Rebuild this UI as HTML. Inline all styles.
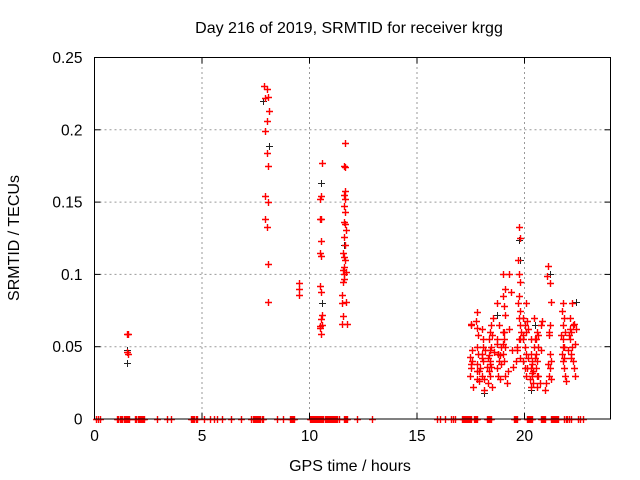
<!DOCTYPE html>
<html><head><meta charset="utf-8"><style>
body{margin:0;background:#fff}
svg{display:block;font-family:"Liberation Sans",sans-serif}
</style></head><body>
<svg id="chart" width="640" height="480" viewBox="0 0 640 480" xmlns="http://www.w3.org/2000/svg">
<text x="349" y="33" font-size="16" text-anchor="middle">Day 216 of 2019, SRMTID for receiver krgg</text>
<text x="350" y="471" font-size="16" text-anchor="middle">GPS time / hours</text>
<text x="0" y="0" font-size="16" text-anchor="middle" transform="translate(19,238) rotate(-90)">SRMTID / TECUs</text>
<g id="grid"></g>
<g id="marks"></g>
<rect x="94.5" y="57.5" width="516" height="361.5" fill="none" stroke="#000" stroke-width="1"/>
<g id="axes"></g>
</svg>
<script>
const xTicks=[0,5,10,15,20];
const yTicks=[0,0.05,0.1,0.15,0.2,0.25];
const yTickLabels=["0","0.05","0.1","0.15","0.2","0.25"];
const redTimes=[1.5,1.55,1.5,1.55,
7.9,8.0,8.05,8.1,8.0,7.95,8.0,8.05,7.95,8.05,7.95,8.0,8.05,8.05,7.95,
9.5,9.5,9.5,
10.6,10.55,10.5,10.55,10.5,10.55,10.5,10.55,10.5,10.55,10.6,10.55,10.6,10.5,10.55,10.5,
11.65,11.6,11.65,11.65,11.6,11.65,11.6,11.65,11.6,11.65,11.7,11.6,11.65,11.55,11.6,11.65,11.6,11.7,11.55,11.6,11.6,11.55,11.5,11.7,11.5,11.55,11.75,11.5,
17.5,17.5,17.45,17.5,17.55,17.45,17.55,17.6,17.5,
17.8,17.8,17.8,17.75,17.8,17.85,17.8,17.85,17.8,17.9,17.9,
18.0,18.05,18.0,18.05,18.0,18.05,17.95,18.0,18.1,18.1,18.15,
18.4,18.35,18.45,18.4,18.35,18.45,18.4,18.35,18.4,18.45,18.4,18.3,18.5,18.55,18.5,18.6,18.25,18.3,
18.7,18.75,18.7,18.8,18.7,18.75,18.8,18.7,18.75,18.85,18.9,18.85,18.9,
19.0,19.05,19.0,19.1,19.0,19.05,19.1,19.0,19.05,19.1,19.0,19.05,19.1,19.2,19.25,19.3,19.35,19.3,19.4,19.45,
19.75,19.8,19.75,19.8,19.7,19.75,19.8,19.75,19.7,19.8,19.75,19.8,19.85,19.8,19.65,19.6,19.65,
19.95,20.0,20.05,19.95,20.0,20.05,19.95,20.0,20.05,19.95,20.1,20.05,20.15,20.1,20.15,
20.3,20.35,20.3,20.35,20.3,20.35,20.4,20.3,20.25,20.4,20.35,20.45,20.5,20.45,20.5,
20.6,20.65,20.6,20.55,20.65,20.6,20.55,20.65,20.7,20.6,20.55,20.75,20.8,20.75,
21.1,21.12,21.1,21.05,
21.2,21.25,21.2,21.15,21.2,21.25,21.2,21.15,21.25,21.0,20.95,
21.8,21.85,21.8,21.75,21.85,21.8,21.9,21.8,21.85,21.75,21.8,21.85,21.9,21.95,21.7,22.0,
22.1,22.15,22.2,22.1,22.25,22.15,22.1,22.2,22.15,22.25,22.3,22.35,22.3,22.4,22.35,22.05];
const redValues=[0.059,0.059,0.046,0.045,
0.230,0.228,0.223,0.213,0.206,0.199,0.184,0.175,0.154,0.150,0.138,0.133,0.107,0.081,0.222,
0.094,0.090,0.086,
0.177,0.154,0.152,0.138,0.138,0.123,0.115,0.113,0.092,0.088,0.072,0.069,0.065,0.063,0.059,0.064,
0.191,0.175,0.174,0.158,0.155,0.152,0.147,0.143,0.136,0.135,0.131,0.126,0.120,0.115,0.112,0.110,0.105,0.102,0.103,0.100,0.097,0.095,0.086,0.081,0.080,0.071,0.066,0.066,0.065,0.066,
0.030,0.035,0.040,0.043,0.048,0.022,0.038,0.033,0.028,
0.074,0.068,0.063,0.058,0.050,0.045,0.038,0.033,0.026,0.042,0.055,
0.062,0.050,0.045,0.040,0.035,0.030,0.020,0.028,0.048,0.038,0.033,
0.065,0.060,0.055,0.050,0.048,0.044,0.040,0.036,0.030,0.025,0.022,0.070,0.058,0.046,0.036,0.042,0.052,0.045,
0.080,0.065,0.055,0.045,0.040,0.035,0.030,0.028,0.050,0.044,0.038,0.052,0.060,
0.100,0.090,0.085,0.078,0.072,0.060,0.055,0.050,0.045,0.040,0.030,0.025,0.033,0.100,0.088,0.062,0.048,0.036,0.055,0.042,
0.133,0.125,0.110,0.100,0.095,0.085,0.080,0.075,0.070,0.065,0.060,0.055,0.050,0.040,0.048,0.058,0.035,
0.080,0.070,0.065,0.060,0.055,0.050,0.045,0.040,0.035,0.030,0.062,0.068,0.042,0.055,0.032,
0.045,0.040,0.035,0.030,0.025,0.022,0.028,0.033,0.038,0.050,0.055,0.070,0.042,0.030,0.058,
0.060,0.055,0.050,0.040,0.035,0.030,0.025,0.022,0.045,0.065,0.068,0.048,0.038,0.058,
0.106,0.099,0.094,0.081,
0.065,0.060,0.045,0.040,0.035,0.030,0.028,0.025,0.020,0.050,0.042,
0.080,0.075,0.070,0.065,0.060,0.055,0.050,0.045,0.040,0.035,0.030,0.026,0.058,0.048,0.062,0.042,
0.080,0.070,0.065,0.060,0.055,0.050,0.045,0.040,0.035,0.030,0.066,0.062,0.052,0.058,0.044,0.072];
const blackTimes=[1.5,1.5,7.85,8.1,10.55,10.6,11.6,18.1,18.7,19.75,19.8,20.3,20.5,21.2,22.4];
const blackValues=[0.039,0.048,0.220,0.189,0.163,0.080,0.120,0.018,0.072,0.124,0.110,0.020,0.065,0.100,0.081];
const zeroTimes=[0.05,0.15,0.25,1.05,1.1,1.2,1.25,1.3,1.35,1.4,1.45,1.5,1.55,1.6,1.9,1.95,2.0,2.05,2.1,2.15,2.2,2.25,2.3,2.9,3.35,3.55,4.5,4.55,4.6,4.65,4.7,4.75,5.1,5.35,5.55,5.7,5.95,6.35,6.8,7.3,7.35,7.4,7.45,7.5,7.55,7.6,7.65,7.7,7.8,7.85,8.5,8.75,9.1,9.15,9.2,9.25,9.3,10.0,10.05,10.1,10.15,10.2,10.25,10.3,10.35,10.4,10.45,10.5,10.55,10.6,10.65,10.7,10.75,10.8,10.85,10.9,10.95,11.0,11.05,11.1,11.15,11.2,11.25,11.3,11.35,11.6,11.65,11.7,11.75,12.2,12.9,
15.95,16.05,16.3,16.6,16.68,16.79,17.08,17.13,17.18,17.23,17.28,17.33,17.38,17.43,17.48,17.53,17.64,17.7,17.75,17.79,18.25,18.3,18.35,18.4,18.46,19.49,19.55,19.6,19.66,20.11,20.16,20.21,20.26,20.31,20.36,20.75,20.8,20.85,20.9,20.97,21.21,21.26,21.31,21.36,21.41,21.46,21.51,21.57,21.86,21.92,21.97,22.09,22.18,22.5,22.56,22.74];
const X0=94.5,X1=610.5,Y0=419,Y1=57.5,XMAX=24,YMAX=0.25;
const sx=v=>X0+(X1-X0)*v/XMAX;
const sy=v=>Y0-(Y0-Y1)*v/YMAX;
const NS="http://www.w3.org/2000/svg";
const grid=document.getElementById('grid'),axes=document.getElementById('axes'),marks=document.getElementById('marks');
function mk(tag,attrs,parent){const e=document.createElementNS(NS,tag);for(const k in attrs)e.setAttribute(k,attrs[k]);parent.appendChild(e);return e;}
xTicks.forEach(t=>{
  const x=sx(t);
  if(t>0){const g=mk('line',{x1:x,x2:x,y1:Y0,y2:Y1,stroke:'#999','stroke-dasharray':'2,3'},grid);
  
  }
  const a=mk('line',{x1:x,x2:x,y1:Y0,y2:Y0-6,stroke:'#000'},axes);
  
  
  const b=mk('line',{x1:x,x2:x,y1:Y1,y2:Y1+6,stroke:'#000'},axes);
  
  
  const l=mk('text',{x:x,y:Y0+22,'font-size':15.5,'text-anchor':'middle'},axes);l.textContent=String(t);
  
  
});
yTicks.forEach((t,i)=>{
  const y=sy(t);
  if(t>0&&t<YMAX){const g=mk('line',{x1:X0,x2:X1,y1:y,y2:y,stroke:'#999','stroke-dasharray':'2,3'},grid);
  
  }
  const a=mk('line',{x1:X0,x2:X0+6,y1:y,y2:y,stroke:'#000'},axes);
  
  
  const b=mk('line',{x1:X1,x2:X1-6,y1:y,y2:y,stroke:'#000'},axes);
  
  
  const l=mk('text',{x:X0-12,y:y+5.5,'font-size':15.5,'text-anchor':'end'},axes);l.textContent=yTickLabels[i];
  
  
});
function plus(t,v,color,w,name){
  const x=Math.round(sx(t))+0.5,y=Math.round(sy(v))+0.5;
  const p=mk('path',{d:`M${x-3.5},${y}H${x+3.5}M${x},${y-3.5}V${y+3.5}`,stroke:color,'stroke-width':w,fill:'none'},marks);
  
  
}
blackTimes.forEach((t,i)=>plus(t,blackValues[i],'#222',1,'point-black'));
redTimes.forEach((t,i)=>plus(t,redValues[i],'#f00',1.4,'point-red'));
zeroTimes.forEach(t=>plus(t,0,'#f00',1.4,'point-zero'));
</script>
</body></html>
